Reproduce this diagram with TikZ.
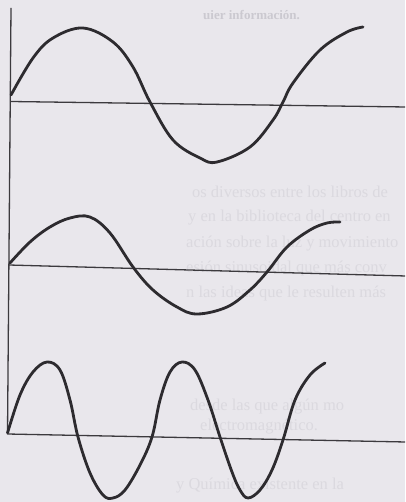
\documentclass[tikz,border=0pt]{standalone}
\usepackage{fontspec}
\setmainfont{Liberation Serif}
\begin{document}
\begin{tikzpicture}[x=1pt,y=-1pt,
  axisline/.style={draw=axisgray,line width=1.3pt},
  waveline/.style={draw=wavegray,line width=2.8pt,line cap=round,line join=round},
  bleed/.style={anchor=base west,text=bleedgray,font=\fontsize{16.5}{18}\selectfont,inner sep=0pt},
  bleedtop/.style={anchor=base west,text=bleeddark,font=\bfseries\fontsize{13}{15}\selectfont,inner sep=0pt}]
\definecolor{paper}{RGB}{233,231,236}
\definecolor{axisgray}{RGB}{60,58,62}
\definecolor{wavegray}{RGB}{45,43,47}
\definecolor{bleedgray}{RGB}{219,217,223}
\definecolor{bleeddark}{RGB}{203,201,208}
\useasboundingbox (0,0) rectangle (405,502);
\clip (0,0) rectangle (405,502);
\fill[paper] (0,0) rectangle (405,502);

% faint show-through text
\node[bleedtop] (t0) at (203,20) {uier información.};
\node[bleed] (t1) at (192,198) {os diversos entre los libros de};
\node[bleed] (t2) at (188,222) {y en la biblioteca del centro en};
\node[bleed] (t3) at (186,247) {ación sobre la luz y movimiento};
\node[bleed] (t4) at (186,272) {esión sinusoidal que más conv};
\node[bleed] (t5) at (186,297) {n las ideas que le resulten más};
\node[bleed] (t6) at (190,410) {desde las que algún mo};
\node[bleed] (t7) at (200,430) {electromagnético.};
\node[bleed] (t8) at (176,489) {y Química existente en la};

% vertical axis and horizontal axes
\coordinate (vtop) at (11,8);
\coordinate (vbot) at (7.5,434);
\draw[axisline] (vtop) -- (vbot);
\coordinate (a1l) at (11,101.5);
\coordinate (a1r) at (406,107);
\draw[axisline] (a1l) -- (a1r);
\coordinate (a2l) at (9,265);
\coordinate (a2r) at (406,276);
\draw[axisline] (a2l) -- (a2r);
\coordinate (a3l) at (7.5,434);
\coordinate (a3r) at (406,442);
\draw[axisline] (a3l) -- (a3r);

% wave 1
\draw[waveline] plot[smooth,tension=0.6] coordinates {
 (11,95) (33,58) (53,38) (83,28) (113,42) (133,67) (150,102) (173,140)
 (200,158) (217,162) (250,147) (273,120) (283,102) (293,83) (320,50) (347,32) (363,27)};

% wave 2
\draw[waveline] plot[smooth,tension=0.6] coordinates {
 (10,263) (30,242) (50,227) (70,218) (90,217) (110,233) (133,267) (153,290)
 (177,307) (197,314) (227,307) (250,290) (267,272) (287,247) (310,230) (327,223) (340,222)};

% wave 3
\draw[waveline] plot[smooth,tension=0.6] coordinates {
 (7.5,433) (20,395) (33,372) (47,362) (60,370) (70,400) (78,437) (90,473)
 (103,495) (113,498) (125,490) (140,465) (152,437) (160,400) (170,372) (182,362)
 (195,370) (208,400) (220,437) (232,472) (240,490) (248,498) (260,490) (272,470)
 (283,440) (295,400) (310,375) (325,363)};
\end{tikzpicture}
\end{document}
